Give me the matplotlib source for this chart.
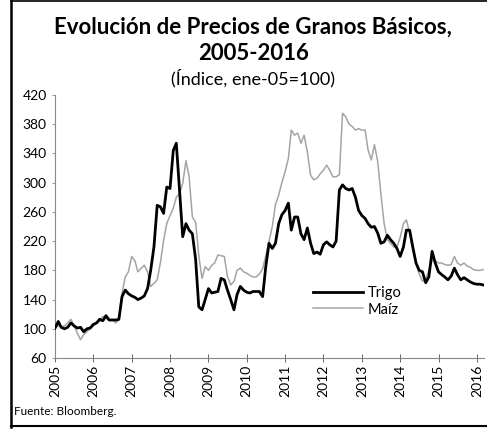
import numpy as np
import pandas as pd
import matplotlib
matplotlib.use("Agg")
import matplotlib.pyplot as plt
import matplotlib.dates as mdates
from matplotlib.lines import Line2D

plt.rcParams['font.family'] = ['Lato', 'DejaVu Sans']

# indices mensuales, ene-2005 = 100
trigo = [101, 110, 102, 100, 102, 108, 104, 101, 102, 96, 100, 101,
         106, 108, 113, 111, 118, 112, 112, 112, 113, 144, 153, 148,
         145, 143, 140, 142, 145, 155, 180, 212, 269, 267, 258, 294,
         292, 344, 354, 290, 226, 244, 235, 230, 195, 130, 126, 140,
         155, 149, 150, 151, 169, 167, 153, 140, 126, 147, 158, 153,
         150, 149, 151, 151, 151, 144, 185, 217, 210, 217, 244, 256,
         262, 272, 235, 253, 253, 230, 222, 238, 217, 203, 205, 202,
         215, 219, 215, 212, 220, 290, 297, 292, 290, 292, 280, 262,
         255, 251, 244, 239, 240, 231, 217, 219, 228, 222, 217, 210,
         199, 212, 235, 235, 212, 190, 180, 178, 163, 171, 206, 190,
         178, 174, 171, 167, 172, 183, 174, 167, 170, 167, 164, 162,
         161, 161, 160]
maiz = [101, 104, 103, 104, 108, 113, 105, 94, 85, 92, 96, 100,
        104, 108, 110, 117, 114, 112, 113, 108, 112, 149, 171, 178,
        199, 193, 178, 183, 187, 178, 158, 162, 167, 190, 221, 244,
        255, 265, 280, 285, 299, 330, 308, 253, 246, 200, 169, 185,
        180, 187, 190, 201, 200, 199, 172, 160, 165, 180, 183, 178,
        176, 173, 171, 171, 175, 182, 200, 220, 240, 270, 283, 300,
        315, 333, 372, 365, 368, 354, 365, 342, 310, 304, 306, 312,
        317, 324, 317, 308, 308, 311, 395, 390, 380, 377, 372, 374,
        372, 372, 345, 331, 352, 329, 285, 244, 222, 217, 212, 212,
        225, 244, 249, 231, 208, 190, 175, 165, 168, 180, 194, 193,
        190, 190, 188, 187, 188, 199, 190, 187, 190, 186, 184, 181,
        180, 180, 181]
fechas = pd.date_range('2005-01-01', periods=len(trigo), freq='MS')
anios = list(range(2005, 2017))

fig = plt.figure(figsize=(4.87, 4.29), dpi=100)
ax = fig.add_axes([0.113, 0.1655, 0.881, 0.613])

ax.plot(fechas, maiz, color='#a4a4a4', lw=1.1, label='Maíz', zorder=2)
ax.plot(fechas, trigo, color='black', lw=2.0, label='Trigo', zorder=3)

ax.set_ylim(60, 420)
ax.set_yticks(np.arange(60, 421, 40))
ax.set_xlim(pd.Timestamp('2005-01-01'), pd.Timestamp('2016-03-10'))
ax.set_xticks([pd.Timestamp(f'{a}-01-01') for a in anios])
ax.xaxis.set_major_formatter(mdates.DateFormatter('%Y'))
ax.tick_params(axis='x', direction='inout', length=6, width=0.7, color='#666666',
               labelsize=10, labelrotation=90, pad=2)
ax.tick_params(axis='y', direction='out', length=2, width=0.6, color='#888888',
               labelsize=10, pad=4)
for s in ['top', 'right']:
    ax.spines[s].set_visible(False)
ax.spines['left'].set_color('#888888')
ax.spines['left'].set_linewidth(0.8)
ax.spines['left'].set_linestyle((0, (1, 1)))
ax.spines['bottom'].set_color('#888888')
ax.spines['bottom'].set_linewidth(0.8)

h, l = ax.get_legend_handles_labels()
ax.legend(h[::-1], l[::-1], loc='center left', bbox_to_anchor=(0.585, 0.215),
          frameon=False, fontsize=10.5, handlelength=3.4, handletextpad=0.3,
          labelspacing=0.15, borderpad=0)

fig.text(0.52, 0.937, 'Evolución de Precios de Granos Básicos,', ha='center',
         va='center', fontsize=16, fontweight='bold')
fig.text(0.52, 0.876, '2005-2016', ha='center', va='center', fontsize=16,
         fontweight='bold')
fig.text(0.52, 0.818, '(Índice, ene-05=100)', ha='center', va='center',
         fontsize=13)
fig.text(0.028, 0.04, 'Fuente: Bloomberg.', ha='left', va='center', fontsize=8.5)

# marco
fig.add_artist(Line2D([0.022, 0.022], [0.005, 0.998], color='black', lw=1.8,
                      transform=fig.transFigure))
fig.add_artist(Line2D([0.022, 1.0], [0.997, 0.997], color='black', lw=1.2,
                      transform=fig.transFigure))
fig.add_artist(Line2D([0.022, 1.0], [0.006, 0.006], color='black', lw=1.5,
                      transform=fig.transFigure))

fig.savefig('out.png', dpi=100)
